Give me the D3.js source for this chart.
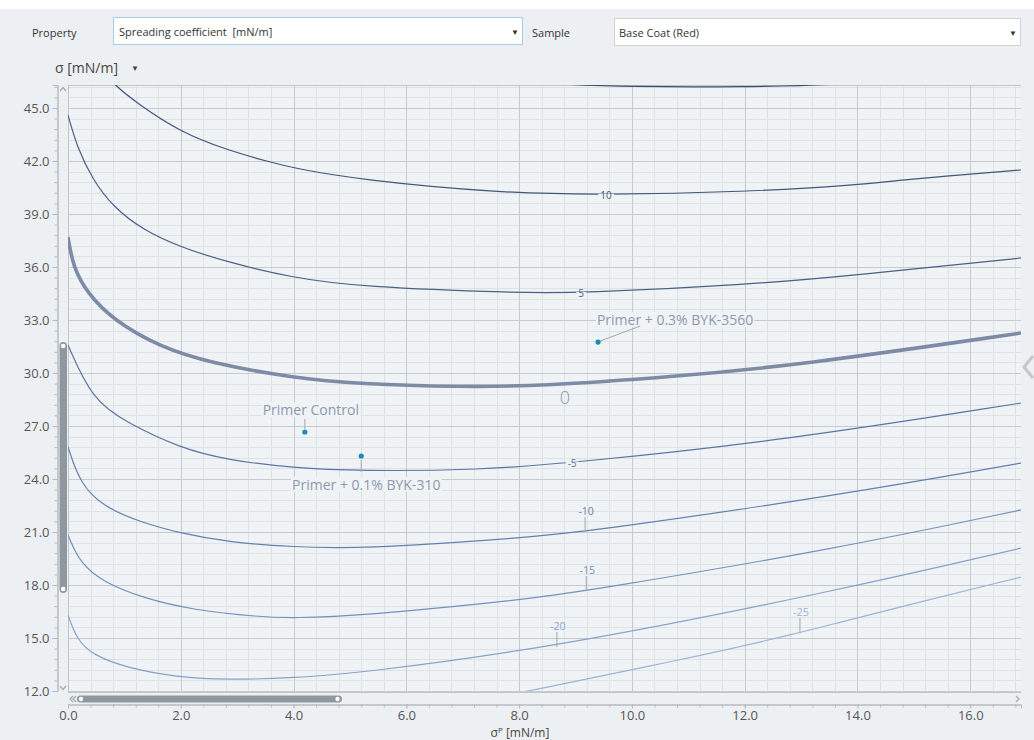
<!DOCTYPE html>
<html>
<head>
<meta charset="utf-8">
<script src="https://cdn.jsdelivr.net/npm/d3@7"></script>
<style>
  body { margin: 0; background: #fff; font-family: "Open Sans", "Noto Sans", sans-serif; }
  .tick text { font-family: "Open Sans", "Noto Sans", sans-serif; }
</style>
</head>
<body>
<div id="chart"></div>
<script>
// axis ranges and ticks
const xDomain = [0, 16.9];
const yDomain = [12, 46.3];
const xTickVals = [0, 2, 4, 6, 8, 10, 12, 14, 16];
const yTickVals = [12, 15, 18, 21, 24, 27, 30, 33, 36, 39, 42, 45];

// contour lines of the spreading coefficient, [sigma_p, sigma] pairs
const c15 = [[7.8, 46.6], [8.59, 46.36], [10.0, 46.19], [12.0, 46.19], [13.6, 46.3], [14.6, 46.6]];
const c10 = [[0.7, 46.9], [0.8, 46.36], [1.22, 45.28], [1.99, 43.64], [2.82, 42.62], [3.58, 41.94],
  [3.99, 41.6], [5.18, 40.93], [7.66, 40.19], [9.44, 40.08], [12.01, 40.25], [14.0, 40.64],
  [14.76, 40.93], [16.9, 41.49]];
const c5 = [[0.0, 44.6], [0.16, 42.79], [0.44, 40.92], [0.8, 39.4], [1.33, 38.09], [1.99, 37.13],
  [2.82, 36.28], [3.99, 35.38], [5.18, 34.87], [8.02, 34.53], [9.08, 34.53], [12.01, 34.98],
  [14.0, 35.55], [16.9, 36.51]];
const c0 = [[0.0, 37.7], [0.09, 36.0], [0.34, 34.53], [0.8, 33.0], [1.63, 31.47], [2.52, 30.57],
  [3.99, 29.72], [5.18, 29.38], [6.95, 29.21], [8.37, 29.26], [10.68, 29.77], [12.98, 30.45],
  [16.9, 32.26]];
const cm5 = [[0.0, 31.58], [0.43, 28.47], [1.05, 27.17], [1.99, 25.75], [2.82, 25.08], [3.99, 24.62],
  [5.18, 24.45], [7.31, 24.51], [8.94, 24.91], [12.75, 26.21], [16.9, 28.3]];
const cm10 = [[0.0, 25.81], [0.21, 23.77], [0.62, 22.42], [1.33, 21.51], [1.99, 20.94], [2.82, 20.43],
  [3.99, 20.15], [5.18, 20.04], [8.02, 20.66], [9.17, 21.0], [13.69, 23.09], [16.9, 24.9]];
const cm15 = [[0.0, 20.83], [0.21, 19.25], [0.62, 18.17], [1.33, 17.26], [2.22, 16.58], [3.41, 16.19],
  [3.99, 16.13], [5.18, 16.25], [8.02, 17.15], [9.19, 17.66], [13.69, 20.09], [16.9, 22.25]];
const cm20 = [[0.0, 16.3], [0.16, 14.89], [0.44, 14.04], [1.05, 13.3], [1.93, 12.79], [2.82, 12.62],
  [3.99, 12.74], [5.18, 13.02], [8.67, 14.49], [13.69, 17.72], [16.9, 20.09]];
const cm25 = [[8.0, 11.9], [10.86, 13.75], [12.98, 15.28], [13.69, 15.91], [16.9, 18.45]];

const levels = [15, 10, 5, 0, -5, -10, -15, -20, -25];
const levelPts = [c15, c10, c5, c0, cm5, cm10, cm15, cm20, cm25];
const levelColours = ["#3d4f6e", "#42577a", "#4a6086", "#7d8ba6", "#5a76a0", "#6480ac", "#7491bc", "#86a2c9", "#9bb4d7"];

// contour labels: level and a point on the line where it sits
const labelLevels = [10, 5, 0, -5, -10, -15, -20, -25];
const labelX = [9.54, 9.1, 8.81, 8.94, 9.17, 9.19, 8.67, 12.98];
const labelY = [40.06, 34.5, 29.24, 24.9, 21.0, 17.66, 14.49, 15.28];

// measured samples
const sampleNames = ["Primer Control", "Primer + 0.1% BYK-310", "Primer + 0.3% BYK-3560"];
const sampleX = [4.2, 5.2, 9.4];
const sampleY = [26.66, 25.3, 31.75];

const W = 1034, H = 740;
const plot = { left: 68, right: 1021, top: 85, bottom: 691 };
const pageBg = "#edf0f3", plotBg = "#f0f3f6";

const svg = d3.select("#chart").append("svg")
  .attr("width", W).attr("height", H)
  .style("display", "block");

svg.append("rect").attr("width", W).attr("height", H).attr("fill", "#fff");
svg.append("rect").attr("y", 9).attr("width", W).attr("height", H - 9).attr("fill", pageBg);

// top controls
const ctrl = svg.append("g").style("font-size", "11px").style("fill", "#333");
ctrl.append("text").attr("x", 32).attr("y", 37).text("Property");
ctrl.append("rect").attr("x", 113.5).attr("y", 17.5).attr("width", 409).attr("height", 27)
  .attr("fill", "#fff").attr("stroke", "#a9cbe6");
ctrl.append("text").attr("x", 119).attr("y", 36).text("Spreading coefficient  [mN/m]")
  .attr("xml:space", "preserve").style("white-space", "pre");
ctrl.append("text").attr("x", 515).attr("y", 35).attr("text-anchor", "middle").style("font-size", "8px").text("▼");
ctrl.append("text").attr("x", 532).attr("y", 37).text("Sample");
ctrl.append("rect").attr("x", 614.5).attr("y", 18.5).attr("width", 406).attr("height", 27)
  .attr("fill", "#fff").attr("stroke", "#cfd3d7");
ctrl.append("text").attr("x", 619).attr("y", 37).text("Base Coat (Red)");
ctrl.append("text").attr("x", 1013).attr("y", 36).attr("text-anchor", "middle").style("font-size", "8px").text("▼");

// y title
svg.append("text").attr("x", 55).attr("y", 73)
  .style("font-size", "14px").style("fill", "#444").text("σ [mN/m]");
svg.append("text").attr("x", 135).attr("y", 71).attr("text-anchor", "middle")
  .style("font-size", "8px").style("fill", "#444").text("▼");

const x = d3.scaleLinear().domain(xDomain).range([plot.left, plot.right]);
const y = d3.scaleLinear().domain(yDomain).range([plot.bottom, plot.top]);

// plot background + grid
svg.append("rect").attr("x", plot.left).attr("y", plot.top)
  .attr("width", plot.right - plot.left).attr("height", plot.bottom - plot.top)
  .attr("fill", plotBg);

const xMinor = d3.range(0, xDomain[1], 0.4).filter(d => Math.abs(d / 2 - Math.round(d / 2)) > 0.01);
const yMinor = d3.range(12, yDomain[1], 0.6).filter(d => Math.abs((d - 12) / 3 - Math.round((d - 12) / 3)) > 0.01);

const grid = svg.append("g");
grid.selectAll(".xm").data(xMinor).enter().append("line")
  .attr("x1", d => Math.round(x(d)) + 0.5).attr("x2", d => Math.round(x(d)) + 0.5)
  .attr("y1", plot.top).attr("y2", plot.bottom).attr("stroke", "#dde2e6");
grid.selectAll(".ym").data(yMinor).enter().append("line")
  .attr("y1", d => Math.round(y(d)) + 0.5).attr("y2", d => Math.round(y(d)) + 0.5)
  .attr("x1", plot.left).attr("x2", plot.right).attr("stroke", "#dde2e6");
grid.selectAll(".xM").data(xTickVals).enter().append("line")
  .attr("x1", d => Math.round(x(d)) + 0.5).attr("x2", d => Math.round(x(d)) + 0.5)
  .attr("y1", plot.top).attr("y2", plot.bottom).attr("stroke", "#c6cacf");
grid.selectAll(".yM").data(yTickVals).enter().append("line")
  .attr("y1", d => Math.round(y(d)) + 0.5).attr("y2", d => Math.round(y(d)) + 0.5)
  .attr("x1", plot.left).attr("x2", plot.right).attr("stroke", "#c6cacf");
svg.append("path")
  .attr("d", `M${plot.left + 0.5},${plot.bottom + 0.5}V${plot.top + 0.5}H${plot.right}`)
  .attr("fill", "none").attr("stroke", "#c0c5ca");
svg.append("line").attr("x1", plot.left).attr("x2", plot.right)
  .attr("y1", plot.bottom + 1.5).attr("y2", plot.bottom + 1.5).attr("stroke", "#c0c5ca");

// clip
svg.append("clipPath").attr("id", "clip").append("rect")
  .attr("x", plot.left).attr("y", plot.top)
  .attr("width", plot.right - plot.left).attr("height", plot.bottom - plot.top);

const line = d3.line().x(d => x(d[0])).y(d => y(d[1])).curve(d3.curveBasis);

const contours = levels.map((v, i) => ({ level: v, pts: levelPts[i], colour: levelColours[i] }));

const cg = svg.append("g").attr("clip-path", "url(#clip)");
cg.selectAll(".contour").data(contours).enter().append("path")
  .attr("class", "contour")
  .attr("d", d => line(d.pts))
  .attr("fill", "none")
  .attr("stroke", d => d.colour)
  .attr("stroke-width", d => d.level === 0 ? 3.6 : 1.2);

// contour labels
const labels = labelLevels.map((v, i) => ({
  level: v, x: labelX[i], y: labelY[i],
  colour: levelColours[levels.indexOf(v)]
}));
const lg = svg.append("g");
labels.forEach(d => {
  const px = x(d.x), py = y(d.y);
  if (d.level === 0) {
    lg.append("text").attr("x", px).attr("y", py + 18).attr("text-anchor", "middle")
      .style("font-size", "18px").style("font-weight", 300).style("fill", "#8893a8").text("0");
  } else if (d.level > -10) {
    const t = lg.append("text").attr("x", px).attr("y", py + 3.5).attr("text-anchor", "middle")
      .style("font-size", "10px").style("fill", d.colour).text(d.level);
    const b = t.node().getBBox();
    lg.insert("rect", "text").attr("x", b.x - 2).attr("y", py - 1.5).attr("width", b.width + 4).attr("height", 3)
      .attr("fill", plotBg);
  } else {
    lg.append("line").attr("x1", px).attr("x2", px).attr("y1", py - 15).attr("y2", py)
      .attr("stroke", "#a0a6ae").attr("stroke-width", 1);
    lg.append("text").attr("x", px + 1).attr("y", py - 17).attr("text-anchor", "middle")
      .style("font-size", "10.5px").style("fill", d.colour).text(d.level);
  }
});

// samples
const sampleLabelLayout = [
  { dx: 6, dy: -17, lx1: 0, ly1: -3, lx2: 0, ly2: -13 },
  { dx: 5, dy: 34, lx1: 0, ly1: 4, lx2: 0, ly2: 16 },
  { dx: 77, dy: -17, lx1: 2, ly1: -1, lx2: 42, ly2: -16 }
];
const sg = svg.append("g");
sampleNames.forEach((name, i) => {
  const px = x(sampleX[i]), py = y(sampleY[i]), L = sampleLabelLayout[i];
  sg.append("line").attr("x1", px + L.lx1).attr("y1", py + L.ly1)
    .attr("x2", px + L.lx2).attr("y2", py + L.ly2)
    .attr("stroke", "#a3a9b1").attr("stroke-width", 1);
  const t = sg.append("text").attr("x", px + L.dx).attr("y", py + L.dy)
    .attr("text-anchor", "middle")
    .style("font-size", "14px").style("fill", "#8d99ad").text(name);
  const b = t.node().getBBox();
  sg.insert("rect", "text").attr("x", b.x - 1).attr("y", b.y + 2).attr("width", b.width + 2).attr("height", b.height - 4)
    .attr("fill", plotBg);
  sg.append("circle").attr("cx", px).attr("cy", py).attr("r", 2.6).attr("fill", "#1b8db4");
});

// y axis
const yAxisG = svg.append("g").attr("transform", "translate(57.5,0)");
yAxisG.call(d3.axisLeft(y).tickValues(d3.range(12, yDomain[1], 0.6)).tickSize(3).tickFormat(""));
yAxisG.append("g").call(d3.axisLeft(y).tickValues(yTickVals).tickSize(5).tickPadding(3).tickFormat(d3.format(".1f")));
yAxisG.selectAll(".domain").attr("stroke", "#b5bbc1");
yAxisG.selectAll("line").attr("stroke", "#b5bbc1");
yAxisG.selectAll("text").style("font-size", "13px").style("fill", "#555");

// x axis
const xAxisG = svg.append("g").attr("transform", "translate(0,704.5)");
xAxisG.call(d3.axisBottom(x).tickValues(d3.range(0, xDomain[1], 0.4)).tickSize(3).tickFormat(""));
xAxisG.append("g").call(d3.axisBottom(x).tickValues(xTickVals).tickSize(4).tickPadding(2).tickFormat(d3.format(".1f")));
xAxisG.selectAll(".domain").attr("stroke", "#b5bbc1");
xAxisG.selectAll("line").attr("stroke", "#b5bbc1");
xAxisG.selectAll("text").style("font-size", "13px").style("fill", "#555");

svg.append("text").attr("x", 520).attr("y", 736.5).attr("text-anchor", "middle")
  .style("font-size", "12px").style("fill", "#444")
  .html('σ<tspan dy="-4" font-size="8px">P</tspan><tspan dy="4"> [mN/m]</tspan>');

// scrollbars
const sb = svg.append("g");
sb.append("rect").attr("x", 59.5).attr("y", 342).attr("width", 7.5).attr("height", 251).attr("rx", 3.7)
  .attr("fill", "#8f979f");
sb.append("circle").attr("cx", 63.2).attr("cy", 346).attr("r", 2.3).attr("fill", "#fff");
sb.append("circle").attr("cx", 63.2).attr("cy", 589).attr("r", 2.3).attr("fill", "#fff");
sb.append("rect").attr("x", 77).attr("y", 695.5).attr("width", 265).attr("height", 7).attr("rx", 3.5)
  .attr("fill", "#8f979f");
sb.append("circle").attr("cx", 81).attr("cy", 699).attr("r", 2.2).attr("fill", "#fff");
sb.append("circle").attr("cx", 337.5).attr("cy", 699).attr("r", 2.2).attr("fill", "#fff");
const chev = d => sb.append("path").attr("d", d).attr("fill", "none")
  .attr("stroke", "#a4abb2").attr("stroke-width", 1.3);
chev("M60,91L63,87.5L66,91");
chev("M60,686L63,689.5L66,686");
chev("M73,696L70,699L73,702");
chev("M76,696L73,699L76,702");
chev("M1016,696L1019,699L1016,702");
svg.append("path").attr("d", "M1033,356L1024,367L1033,378").attr("fill", "none")
  .attr("stroke", "#c3c8cd").attr("stroke-width", 3);
</script>
</body>
</html>
